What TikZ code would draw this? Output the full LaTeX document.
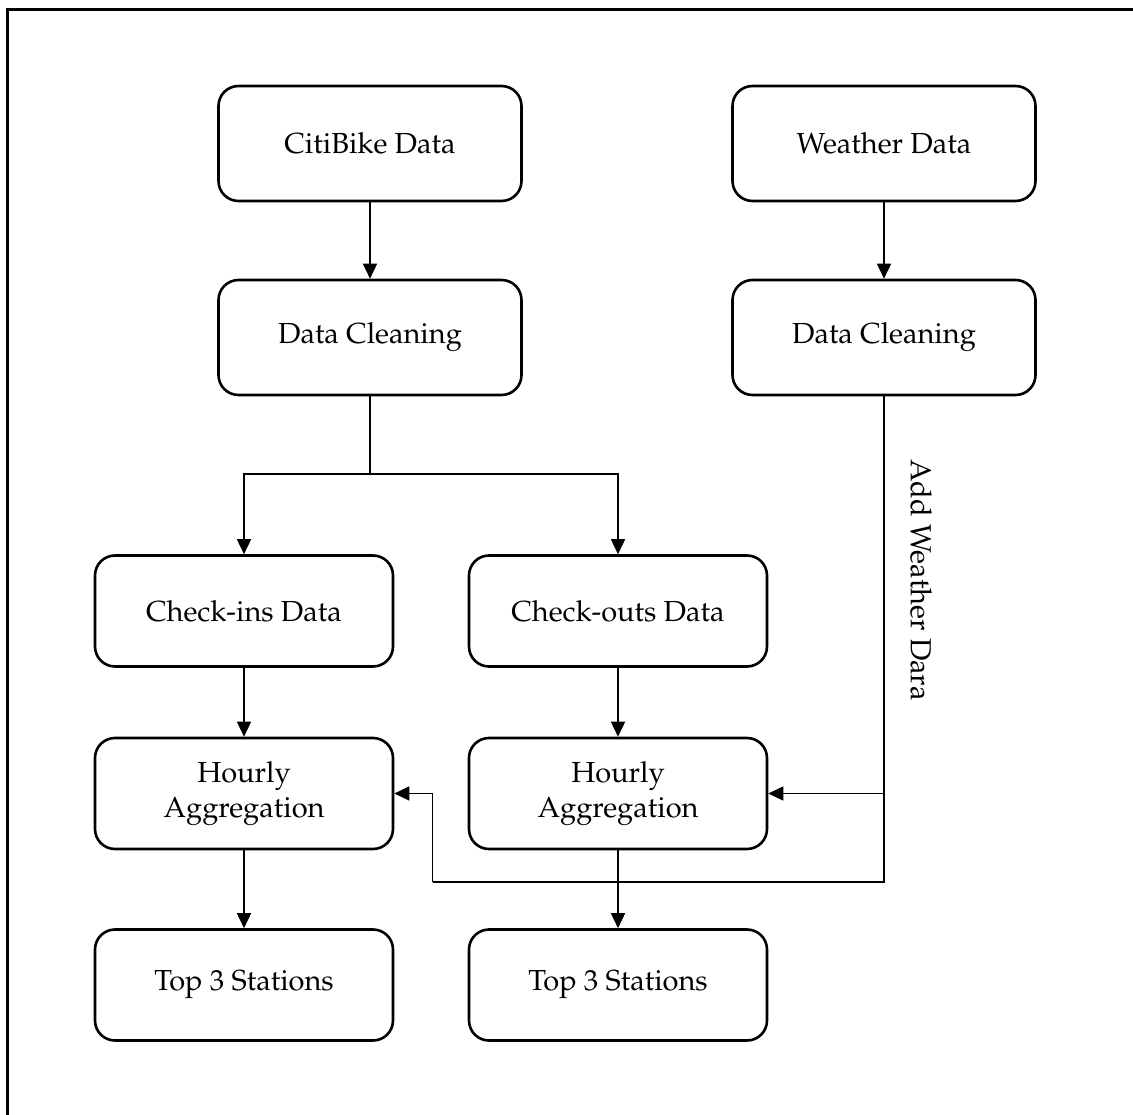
\documentclass[tikz,border=0pt]{standalone}
\usepackage[T1]{fontenc}
\usepackage{mathpazo}
\usepackage{tikz}
\usetikzlibrary{arrows.meta}
\usetikzlibrary{calc}

\tikzset{
    box/.style={draw, line width=2.6pt, rounded corners=20pt, align=center,
        font=\fontsize{29}{35}\selectfont},
    topbox/.style={box, minimum width=303pt, minimum height=115pt},
    lowbox/.style={box, minimum width=298pt, minimum height=111pt},
    link/.style={line width=1.6pt},
    flow/.style={link, -{Triangle[length=15pt,width=14pt]}}
}

\begin{document}
\begin{tikzpicture}[x=1pt,y=-1pt]
    \useasboundingbox (0,0) rectangle (1133,1115);
    \draw[line width=3.5pt] (7.5,1130) |- (1145,9.5);

    \node[topbox] (cbd) at (370,143.5) {CitiBike Data};
    \node[topbox] (wd) at (884,143.5) {Weather Data};
    \node[topbox] (dcl) at (370,337.5) {Data Cleaning};
    \node[topbox] (dcr) at (884,337.5) {Data Cleaning};

    \node[lowbox] (cin) at (244,611) {Check-ins Data};
    \node[lowbox] (cout) at (618,611) {Check-outs Data};
    \node[lowbox] (hal) at (244,793.5) {Hourly\\Aggregation};
    \node[lowbox] (har) at (618,793.5) {Hourly\\Aggregation};
    \node[lowbox] (tl) at (244,985) {Top 3 Stations};
    \node[lowbox] (tr) at (618,985) {Top 3 Stations};

    \node[rotate=-90, font=\fontsize{29}{35}\selectfont] (lbl) at (921,580) {Add Weather Dara};

    \coordinate (split) at (370,474);
    \coordinate (wj) at (dcr.south |- har.east);
    \coordinate (wc) at ($(dcr.south |- har.east)+(0,88.5)$);
    \coordinate (lc) at (432.5,882);

    \draw[flow] (cbd) -- (dcl);
    \draw[flow] (wd) -- (dcr);
    \draw[link] (dcl.south) -- (split);
    \draw[flow] (split) -| (cin.north);
    \draw[flow] (split) -| (cout.north);
    \draw[flow] (cin) -- (hal);
    \draw[flow] (cout) -- (har);
    \draw[flow] (hal) -- (tl);
    \draw[flow] (har) -- (tr);

    \draw[link] (dcr.south) -- (wj) -- (wc) -- (lc);
    \draw[flow] (wj) -- (har.east);
    \draw[flow] (lc) |- (hal.east);
\end{tikzpicture}
\end{document}
